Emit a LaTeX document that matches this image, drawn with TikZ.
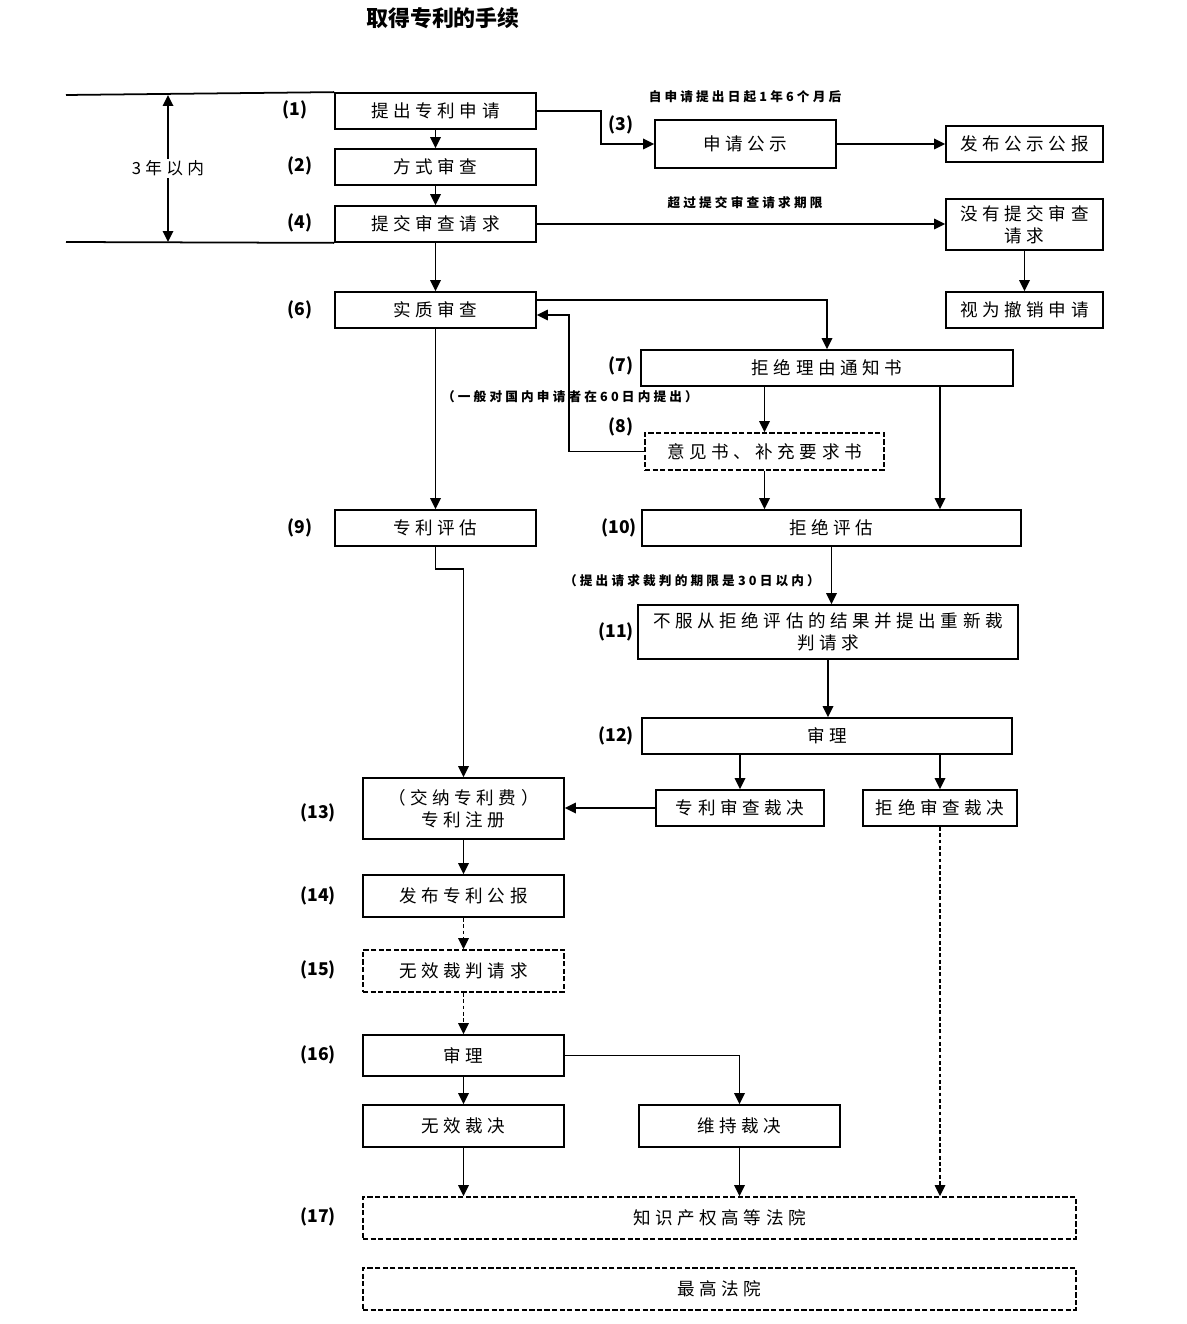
\documentclass[tikz,border=0pt]{standalone}
\usepackage{fontspec}
\setmainfont{Noto Sans CJK SC}
\newfontfamily\boxfont[LetterSpace=26]{Noto Sans CJK SC}
\newfontfamily\notefont[LetterSpace=25]{Noto Sans CJK SC}
\usetikzlibrary{arrows.meta}
\begin{document}
\begin{tikzpicture}[x=0.02cm,y=-0.02cm,line width=1pt,>={Triangle[length=2.2mm,width=2.1mm]},
    box/.style={draw,inner sep=0pt,align=center,font=\boxfont\fontsize{10}{12.5}\selectfont},
    dbox/.style={box,dash pattern=on 3pt off 1.3pt},
    dline/.style={line width=0.8pt,dash pattern=on 2.2pt off 1.4pt},
    num/.style={font=\bfseries\fontsize{10}{12}\selectfont},
    note/.style={font=\notefont\bfseries\fontsize{7.2}{8.5}\selectfont}]
  \useasboundingbox (0,0) rectangle (1186,1324);
  \node[font=\bfseries\fontsize{12.5}{14}\selectfont] (title) at (443,18) {取得专利的手续};

  \node[box,minimum width=4.02cm,minimum height=0.72cm] (n1) at (435.5,111) {提出专利申请};
  \node[box,minimum width=4.02cm,minimum height=0.72cm] (n2) at (435.5,167) {方式审查};
  \node[box,minimum width=4.02cm,minimum height=0.72cm] (n4) at (435.5,224) {提交审查请求};
  \node[box,minimum width=3.62cm,minimum height=0.96cm] (n3) at (745.5,144) {申请公示};
  \node[box,minimum width=3.14cm,minimum height=0.72cm] (pub) at (1024.5,144) {发布公示公报};
  \node[box,minimum width=3.14cm,minimum height=1.02cm] (nosub) at (1024.5,224.5) {没有提交审查\\请求};
  \node[box,minimum width=3.14cm,minimum height=0.72cm] (withdraw) at (1024.5,310) {视为撤销申请};
  \node[box,minimum width=4.02cm,minimum height=0.72cm] (n6) at (435.5,310) {实质审查};
  \node[box,minimum width=7.44cm,minimum height=0.72cm] (n7) at (827,368) {拒绝理由通知书};
  \node[dbox,minimum width=4.78cm,minimum height=0.74cm] (n8) at (764.5,451.5) {意见书、补充要求书};
  \node[box,minimum width=4.02cm,minimum height=0.72cm] (n9) at (435.5,528) {专利评估};
  \node[box,minimum width=7.58cm,minimum height=0.72cm] (n10) at (831.5,528) {拒绝评估};
  \node[box,minimum width=7.60cm,minimum height=1.08cm] (n11) at (828,632) {不服从拒绝评估的结果并提出重新裁\\判请求};
  \node[box,minimum width=7.40cm,minimum height=0.72cm] (n12) at (827,736) {审理};
  \node[box,minimum width=3.36cm,minimum height=0.72cm] (grant) at (740,808) {专利审查裁决};
  \node[box,minimum width=3.08cm,minimum height=0.72cm] (rejdec) at (940,808) {拒绝审查裁决};
  \node[box,minimum width=4.02cm,minimum height=1.22cm] (n13) at (463.5,808.5) {（交纳专利费）\\专利注册};
  \node[box,minimum width=4.02cm,minimum height=0.84cm] (n14) at (463.5,896) {发布专利公报};
  \node[dbox,minimum width=4.02cm,minimum height=0.84cm] (n15) at (463.5,971) {无效裁判请求};
  \node[box,minimum width=4.02cm,minimum height=0.82cm] (n16) at (463.5,1055.5) {审理};
  \node[box,minimum width=4.02cm,minimum height=0.84cm] (invalid) at (463.5,1126) {无效裁决};
  \node[box,minimum width=4.02cm,minimum height=0.84cm] (keep) at (739.5,1126) {维持裁决};
  \node[dbox,minimum width=14.26cm,minimum height=0.84cm] (n17) at (719.5,1218) {知识产权高等法院};
  \node[dbox,minimum width=14.26cm,minimum height=0.84cm] (supreme) at (719.5,1289) {最高法院};

  \node[num] (l1) at (295,110) {(1)};
  \node[num] (l2) at (300,166) {(2)};
  \node[num] (l3) at (621,125) {(3)};
  \node[num] (l4) at (300,223) {(4)};
  \node[num] (l6) at (300,310) {(6)};
  \node[num] (l7) at (621,366) {(7)};
  \node[num] (l8) at (621,427) {(8)};
  \node[num] (l9) at (300,528) {(9)};
  \node[num] (l10) at (619,528) {(10)};
  \node[num] (l11) at (616,632) {(11)};
  \node[num] (l12) at (616,736) {(12)};
  \node[num] (l13) at (318,813) {(13)};
  \node[num] (l14) at (318,896) {(14)};
  \node[num] (l15) at (318,970) {(15)};
  \node[num] (l16) at (318,1055) {(16)};
  \node[num] (l17) at (318,1217) {(17)};

  \node[note] (t1) at (745,97) {自申请提出日起1年6个月后};
  \node[note] (t2) at (745,203) {超过提交审查请求期限};
  \node[note] (t3) at (570,397) {（一般对国内申请者在60日内提出）};
  \node[note] (t4) at (692,581) {（提出请求裁判的期限是30日以内）};

  \coordinate (a1) at (66,95);
  \coordinate (a2) at (66,242);
  \coordinate (y1) at (168,95);
  \coordinate (y2) at (168,242);
  \draw (a1) -- (n1.north west);
  \draw (a2) -- (n4.south west);
  \begin{scope}[->]
    \draw[<->] (y1) -- node[fill=white,inner sep=1pt,font=\boxfont\fontsize{9.5}{11}\selectfont] (yr) {3年以内} (y2);
    \draw (n1) -- (n2);
    \draw (n2) -- (n4);
    \draw (n4) -- (n6);
    \draw (n1.east) -- ++(64,0) |- (n3.west);
    \draw (n3) -- (pub);
    \draw (n4.east) -- (n4.east -| nosub.west);
    \draw (nosub) -- (withdraw);
    \draw ([yshift=0.2cm]n6.east) -| (n7.north);
    \draw (n8.west) -- ++(-75,0) |- ([yshift=-0.1cm]n6.east);
    \draw (n7.south -| n8) -- (n8);
    \draw (n7.south -| rejdec) -- (n10.north -| rejdec);
    \draw (n8) -- (n8 |- n10.north);
    \draw (n6) -- (n9);
    \draw (n9.south) -- ++(0,22) -| (n13.north);
    \draw (n10) -- (n10 |- n11.north);
    \draw (n11) -- (n11 |- n12.north);
    \draw (n12.south -| grant) -- (grant);
    \draw (n12.south -| rejdec) -- (rejdec);
    \draw (grant.west) -- (grant.west -| n13.east);
    \draw[dline] (rejdec) -- (rejdec |- n17.north);
    \draw (n13) -- (n14);
    \draw[dline] (n14) -- (n15);
    \draw[dline] (n15) -- (n16);
    \draw (n16) -- (invalid);
    \draw (n16.east) -| (keep.north);
    \draw (invalid) -- (invalid |- n17.north);
    \draw (keep) -- (keep |- n17.north);
  \end{scope}
\end{tikzpicture}
\end{document}
